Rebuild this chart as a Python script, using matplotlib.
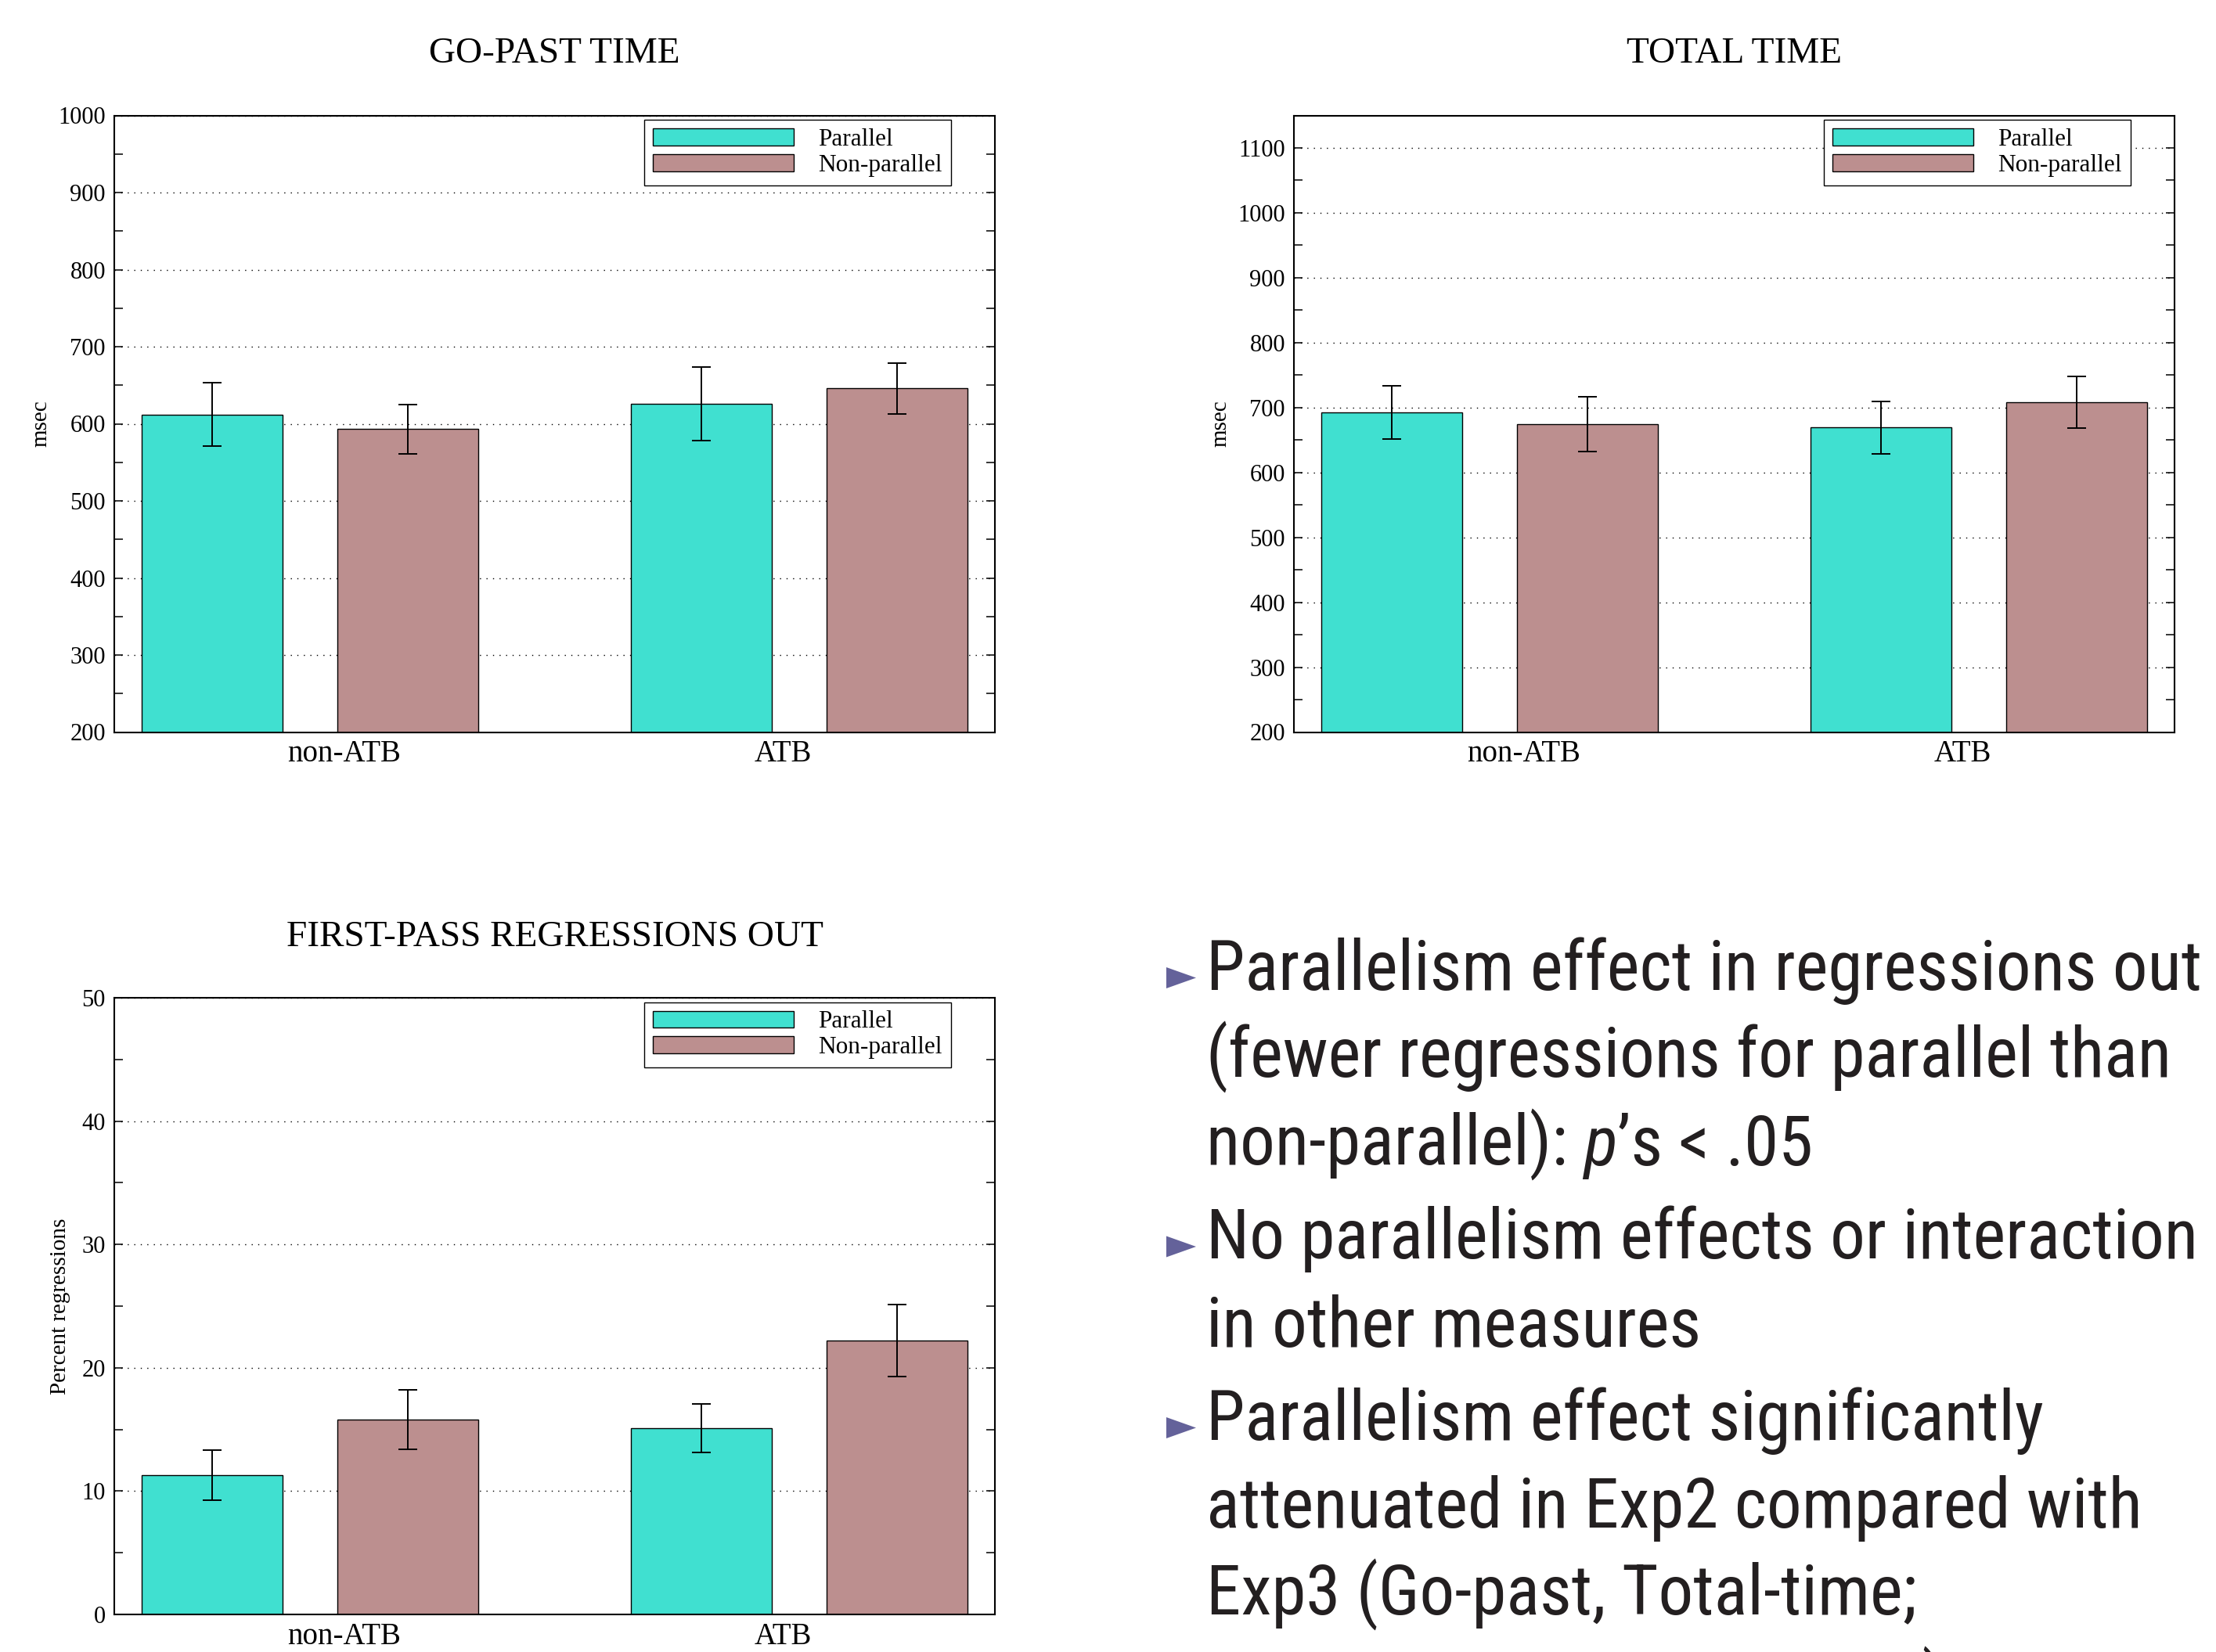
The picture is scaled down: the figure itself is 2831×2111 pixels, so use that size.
import matplotlib
matplotlib.use("Agg")
import matplotlib.pyplot as plt
from matplotlib import font_manager
from matplotlib.font_manager import FontProperties
from matplotlib.patches import Polygon
from matplotlib.ticker import MultipleLocator

# data
groups = ["non-ATB", "ATB"]
series = ["Parallel", "Non-parallel"]

gopast_par = [612, 626]
gopast_par_err = [41, 48]
gopast_nonpar = [593, 646]
gopast_nonpar_err = [32, 33]

total_par = [693, 669]
total_par_err = [41, 40]
total_nonpar = [674, 708]
total_nonpar_err = [42, 40]

regr_par = [11.3, 15.1]
regr_par_err = [2.05, 1.95]
regr_nonpar = [15.8, 22.2]
regr_nonpar_err = [2.4, 2.9]

# each line is a list of (text, italic) pieces
bullets = [
    [[("Parallelism effect in regressions out", False)],
     [("(fewer regressions for parallel than", False)],
     [("non-parallel): ", False), ("p", True), ("\u2019s < .05", False)]],
    [[("No parallelism effects or interaction", False)],
     [("in other measures", False)]],
    [[("Parallelism effect significantly", False)],
     [("attenuated in Exp2 compared with", False)],
     [("Exp3 (Go-past, Total-time;", False)],
     [("First-pass regressions out)", False)]],
]

TURQ = "#40E0D0"
ROSY = "#BC8F8F"
W, H = 2831, 2111

plt.rcParams["font.family"] = "Liberation Serif"


def pick_narrow_sans():
    # look for an installed condensed / narrow sans face, else plain Roboto
    rank = ["Roboto Condensed", "Open Sans Condensed", "Liberation Sans Narrow",
            "Noto Sans Condensed", "DejaVu Sans Condensed", "DejaVu Sans"]
    best, best_r = None, 99
    for f in font_manager.fontManager.ttflist:
        narrow = ("Narrow" in f.name or "Condensed" in f.name or
                  "condensed" in str(f.stretch) or "Condensed" in f.fname)
        if not narrow or "Mono" in f.name or "Serif" in f.name:
            continue
        if f.style != "normal" or str(f.weight) not in ("400", "normal", "regular", "book"):
            continue
        r = 50
        for i, n in enumerate(rank):
            if f.name.startswith(n.split()[0]):
                r = i
                break
        if r < best_r:
            best, best_r = f, r
    if best is None:
        return FontProperties(family="Roboto"), FontProperties(family="Roboto", style="italic")
    ital = None
    for f in font_manager.fontManager.ttflist:
        if f.name == best.name and f.stretch == best.stretch and f.style in ("italic", "oblique") \
                and str(f.weight) == str(best.weight):
            ital = f
            break
    reg = FontProperties(fname=best.fname)
    it = FontProperties(fname=ital.fname) if ital else FontProperties(fname=best.fname)
    return reg, it


fig = plt.figure(figsize=(W / 100, H / 100), dpi=100)


def px_axes(left, top, right, bottom):
    return fig.add_axes([left / W, 1 - bottom / H, (right - left) / W, (bottom - top) / H])


def bar_panel(ax, title, par, par_err, nonpar, nonpar_err, ylim, major, minor, ylabel, ylab_x, title_y):
    x = [0, 1]
    bw = 0.288
    ax.bar([v - 0.2 for v in x], par, bw, color=TURQ, edgecolor="black", linewidth=1.0,
           label=series[0], zorder=2)
    ax.bar([v + 0.2 for v in x], nonpar, bw, color=ROSY, edgecolor="black", linewidth=1.0,
           label=series[1], zorder=2)
    ax.errorbar([v - 0.2 for v in x], par, yerr=par_err, fmt="none", ecolor="black",
                elinewidth=1.4, capsize=8.3, capthick=1.4, zorder=3)
    ax.errorbar([v + 0.2 for v in x], nonpar, yerr=nonpar_err, fmt="none", ecolor="black",
                elinewidth=1.4, capsize=8.3, capthick=1.4, zorder=3)
    ax.set_xlim(-0.4, 1.4)
    ax.set_ylim(*ylim)
    ax.yaxis.set_major_locator(MultipleLocator(major))
    ax.yaxis.set_minor_locator(MultipleLocator(minor))
    ax.set_xticks([0.069, 0.967])
    ax.set_xticklabels(groups, fontsize=28)
    ax.tick_params(axis="x", length=0, pad=7)
    ax.tick_params(axis="y", which="both", direction="in", left=True, right=True,
                   length=8, width=1.1, labelsize=22, pad=8)
    ax.grid(axis="y", which="major", color="black", linestyle=(0, (1, 5)), linewidth=1.0, zorder=0)
    ax.set_axisbelow(True)
    for s in ax.spines.values():
        s.set_linewidth(1.5)
    ax.set_ylabel(ylabel, fontsize=21, va="center")
    ax.yaxis.set_label_coords(ylab_x, 0.5)
    ax.text(0.5, title_y, title, transform=ax.transAxes, ha="center", va="center", fontsize=34)
    leg = ax.legend(loc="upper right", bbox_to_anchor=(0.950, 0.993), borderaxespad=0,
                    fontsize=22.5, handlelength=5.76, handleheight=0.7, handletextpad=1.0,
                    labelspacing=0.12, borderpad=0.35, fancybox=False, framealpha=1,
                    edgecolor="black")
    leg.get_frame().set_linewidth(1.0)


ax1 = px_axes(146, 147.5, 1271, 935.5)
bar_panel(ax1, "GO-PAST TIME", gopast_par, gopast_par_err, gopast_nonpar, gopast_nonpar_err,
          (200, 1000), 100, 50, "msec", -0.0836, 1.10)

ax2 = px_axes(1653, 147.5, 2778, 935.5)
bar_panel(ax2, "TOTAL TIME", total_par, total_par_err, total_nonpar, total_nonpar_err,
          (200, 1150), 100, 50, "msec", -0.0836, 1.10)

ax3 = px_axes(146, 1275, 1271, 2063)
bar_panel(ax3, "FIRST-PASS REGRESSIONS OUT", regr_par, regr_par_err, regr_nonpar, regr_nonpar_err,
          (0, 50), 10, 5, "Percent regressions", -0.0613, 1.098)

# bullet text on the lower right
reg_fp, it_fp = pick_narrow_sans()
renderer = fig.canvas.get_renderer()
probe = fig.text(0, 0, bullets[0][0][0][0], fontproperties=reg_fp, fontsize=66)
wpx = probe.get_window_extent(renderer).width
probe.remove()
size = min(70, 66 * 1272 / wpx)

text_x = 1541
line_gap = 112
bullet_gap = 7.5
y = 1265
for item in bullets:
    tri = Polygon([[1490 / W, 1 - (y - 29) / H], [1528 / W, 1 - (y - 15.5) / H], [1490 / W, 1 - (y - 2) / H]],
                  closed=True, transform=fig.transFigure, facecolor="#64629a", edgecolor="none")
    fig.add_artist(tri)
    for line in item:
        xpos = text_x
        for piece, italic in line:
            fp = it_fp if italic else reg_fp
            t = fig.text(xpos / W, 1 - y / H, piece, fontproperties=fp, fontsize=size,
                         color="#231f20", ha="left", va="baseline")
            xpos += t.get_window_extent(renderer).width
        y += line_gap
    y += bullet_gap

fig.savefig("out.png", dpi=100)
